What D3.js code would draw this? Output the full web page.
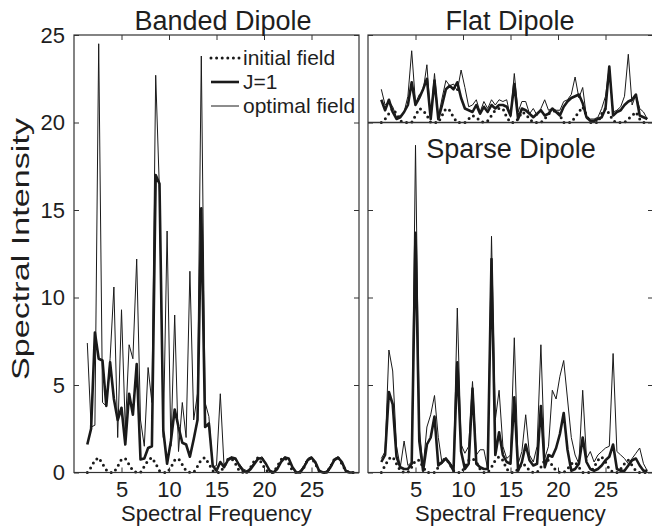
<!DOCTYPE html>
<html>
<head>
<meta charset="utf-8">
<script src="https://cdn.jsdelivr.net/npm/d3@7"></script>
<style>
  body { margin: 0; background: #fff; }
  svg { display: block; }
  text { font-family: "Liberation Sans", Arial, Helvetica, sans-serif; fill: #1e1e1e; }
</style>
</head>
<body>
<svg id="chart" width="652" height="526"></svg>
<script>
// ---------------- DATA ----------------
const freq = [1.4,1.8,2.2,2.6,3.0,3.4,3.8,4.2,4.6,5.0,5.4,5.8,6.2,6.6,7.0,7.4,7.8,8.2,8.6,9.0,
  9.4,9.8,10.2,10.6,11.0,11.4,11.8,12.2,12.6,13.0,13.4,13.8,14.2,14.6,15.0,15.4,15.8,16.2,16.6,17.0,
  17.4,17.8,18.2,18.6,19.0,19.4,19.8,20.2,20.6,21.0,21.4,21.8,22.2,22.6,23.0,23.4,23.8,24.2,24.6,25.0,
  25.4,25.8,26.2,26.6,27.0,27.4,27.8,28.2,28.6,29.0,29.4];

const bandedInitial = [0,0.3,0.7,0.85,0.5,0.15,0, 0,0.35,0.75,0.8,0.45,0.1,0, 0,0.35,0.7,0.85,0.5,0.1,0,
  0,0.3,0.7,0.8,0.45,0.1,0, 0,0.35,0.75,0.85,0.5,0.1,0, 0,0.35,0.75,0.8,0.5,0.1,0,
  0,0.3,0.7,0.85,0.5,0.15,0, 0,0.35,0.75,0.85,0.5,0.1,0, 0,0.3,0.75,0.85,0.5,0.1,0,
  0,0.35,0.75,0.85,0.5,0.1,0, 0];
const bandedJ1 = [1.6,2.5,8.0,6.5,6.4,3.8,6.3,4.2,3.0,3.7,
  1.6,4.5,3.3,6.2,0.75,0.8,1.4,1.5,17.0,16.5,
  2.4,0.5,1.8,3.6,2.6,1.7,1.6,0.9,1.9,3.0,
  15.1,2.6,2.8,0.4,0.1,0.6,0.3,0.7,0.85,0.8,
  0.4,0.1,0.0,0.2,0.5,0.8,0.8,0.5,0.1,0.0,
  0.2,0.6,0.85,0.8,0.3,0.0,0.0,0.3,0.7,0.85,
  0.6,0.1,0.0,0.0,0.3,0.7,0.85,0.6,0.1,0.0, 0.0];
const bandedOptimal = [7.4,2.6,2.7,24.5,4.0,3.8,6.5,10.6,2.0,9.3,
  2.5,7.3,6.5,12.2,3.0,1.5,6.0,4.0,22.7,16.0,
  2.0,13.8,1.5,9.0,1.2,4.0,2.0,11.5,3.0,4.5,
  23.8,4.0,3.2,0.3,0.4,4.5,0.3,0.8,0.9,0.7,
  0.5,0.2,0.1,0.3,0.6,0.8,0.9,0.5,0.1,0.0,
  0.3,0.7,0.9,0.8,0.3,0.0,0.1,0.4,0.8,0.9,
  0.5,0.1,0.0,0.1,0.4,0.8,0.9,0.5,0.1,0.0, 0.0];

// Flat dipole values are measured above its own baseline (drawn at intensity 20)
const flatBaseline = 20;
const flatInitial = [0,0.2,0.5,0.8,0.5,0.1,0,0,0,0.4,
  0.8,0.7,0.4,0,0,0,0.4,0.8,0.7,0.3,
  0,0,0,0.2,0.4,0.3,0.1,0,0.1,0.4,
  0.7,0.8,0.8,0.3,0,0,0.2,0.6,0.5,0.2,
  0,0,0,0.2,0.5,0.6,0.7,0.4,0,0,
  0,0.3,0.6,0.9,0.4,0,0,0,0.5,0.8,
  0.5,0.1,0,0,0,0.2,0.4,0.6,0.2,0, 0];
const flatJ1 = [1.3,0.7,1.3,0.6,0.2,0.3,0.6,1.0,2.3,1.0,
  1.4,1.9,2.5,0.2,2.4,0.2,1.0,1.9,2.1,1.9,
  2.3,1.4,0.8,0.7,0.6,1.0,0.5,0.9,0.6,1.0,
  0.8,1.0,1.0,0.9,0.4,2.2,0.2,0.8,0.7,0.5,
  0.3,0.5,0.7,0.4,0.5,0.8,0.6,0.4,0.9,1.2,
  1.4,1.5,1.6,1.1,0.3,0.1,0.1,0.2,0.3,0.8,
  3.2,0.4,0.6,0.7,1.0,1.2,1.3,1.6,0.4,0.3, 0.2];
const flatOptimal = [1.9,1.0,1.2,0.9,0.3,0.4,0.6,1.5,4.1,1.1,
  1.6,1.8,3.3,0.3,2.8,0.3,1.4,2.4,2.1,2.2,
  1.8,3.0,2.0,0.9,1.0,1.3,0.6,1.2,0.8,1.3,
  1.0,1.3,1.2,1.3,0.3,2.8,0.6,1.2,1.2,0.5,
  0.8,0.4,0.8,1.3,0.7,0.8,0.7,0.7,1.2,1.3,
  1.6,2.6,1.4,2.0,0.3,0.2,0.2,0.3,0.8,1.5,
  3.2,0.6,0.7,0.9,1.5,3.9,1.0,1.6,0.8,0.6, 0.2];

const sparseInitial = [0,0.4,0.8,0.9,0.5,0.1,0,0,0.3,0.7,
  0.7,0.3,0,0,0,0.3,0.7,0.8,0.5,0.1,
  0,0,0.3,0.7,0.8,0.6,0.2,0,0,0.3,
  0.7,0.9,0.7,0.2,0,0,0.2,0.5,0.4,0.1,
  0,0,0.3,0.7,0.7,0.4,0.1,0,0,0.2,
  0.5,0.6,0.3,0,0,0,0.3,0.7,0.9,0.6,
  0.2,0,0,0.2,0.5,0.7,0.4,0.1,0,0, 0];
const sparseJ1 = [0.6,1.0,4.6,3.9,0.9,0.3,0.2,0.2,0.5,13.7,
  1.8,0.1,1.6,2.0,3.2,0.4,0.6,0.8,0.5,0.1,
  6.3,1.2,0.2,0.5,4.8,0.5,0.3,0.2,0.2,12.2,
  1.0,2.3,1.0,0.6,0.5,4.3,0.1,0.6,1.6,0.7,
  0.4,0.5,3.8,0.3,1.0,0.9,1.4,2.2,3.4,1.3,
  0.1,0.2,0.5,2.0,0.6,0.2,0.1,0.2,0.4,0.7,
  0.9,1.6,0.2,0.1,0.1,0.4,0.7,0.8,0.4,0.1, 0.1];
const sparseOptimal = [0.8,1.2,7.0,5.8,1.5,0.3,1.8,0.4,0.6,18.7,
  2.5,0.3,2.6,3.3,4.4,2.0,0.5,0.8,0.6,0.3,
  9.4,1.6,1.1,1.5,5.2,1.0,1.3,1.3,0.2,13.5,
  3.0,4.7,1.5,0.8,1.0,7.7,0.5,1.2,3.3,1.0,
  0.6,1.5,7.3,0.8,1.5,4.7,4.2,5.5,6.4,4.2,
  2.0,1.0,0.5,4.7,0.8,1.2,0.6,1.0,1.2,1.4,
  1.5,6.8,1.2,1.0,0.8,0.5,0.8,1.1,1.4,0.5, 0.1];

const xTicks = [5, 10, 15, 20, 25];
const yTicks = [0, 5, 10, 15, 20, 25];
const legendLabels = ["initial field", "J=1", "optimal field"];
const titles = ["Banded Dipole", "Flat Dipole", "Sparse Dipole"];
const xLabel = "Spectral Frequency";
const yLabel = "Spectral Intensity";

// ---------------- LAYOUT ----------------
const svg = d3.select("#chart");
const INK = "#1a1a1a", AX = "#333";
const y = d3.scaleLinear().domain([0, 25]).range([472.5, 35]);
const xL = d3.scaleLinear().domain([0, 30]).range([74, 359]);
const xR = d3.scaleLinear().domain([0, 30]).range([368, 653]);

const styles = {
  initial: { w: 3, dash: "0,5.6", cap: "round" },
  j1: { w: 2.6, dash: null, cap: "butt" },
  optimal: { w: 1, dash: null, cap: "butt" }
};

function drawSeries(g, xs, vals, offset, st) {
  const line = d3.line().x((d, i) => xs(freq[i])).y(d => y(d + offset));
  g.append("path").datum(vals).attr("d", line)
    .attr("fill", "none").attr("stroke", INK)
    .attr("stroke-width", st.w).attr("stroke-linejoin", "round")
    .attr("stroke-linecap", st.cap)
    .attr("stroke-dasharray", st.dash);
}

const gData = svg.append("g");
drawSeries(gData, xL, bandedInitial, 0, styles.initial);
drawSeries(gData, xL, bandedOptimal, 0, styles.optimal);
drawSeries(gData, xL, bandedJ1, 0, styles.j1);
drawSeries(gData, xR, flatInitial, flatBaseline, styles.initial);
drawSeries(gData, xR, flatOptimal, flatBaseline, styles.optimal);
drawSeries(gData, xR, flatJ1, flatBaseline, styles.j1);
drawSeries(gData, xR, sparseInitial, 0, styles.initial);
drawSeries(gData, xR, sparseOptimal, 0, styles.optimal);
drawSeries(gData, xR, sparseJ1, 0, styles.j1);

// ---------------- AXES ----------------
function styleAxis(g) {
  g.select(".domain").remove();
  g.selectAll("line").attr("stroke", AX).attr("stroke-width", 1);
  g.selectAll("text").attr("font-size", 22).attr("fill", "#1e1e1e")
    .attr("font-family", '"Liberation Sans", Arial, sans-serif');
}
function panel(xs, showYLabels) {
  const [x0, x1] = xs.range();
  const [yb, yt] = y.range();
  const tk = 5;
  const bx = svg.append("g").attr("transform", `translate(0,${yb})`)
    .call(d3.axisBottom(xs).tickValues(xTicks).tickSizeInner(-tk).tickSizeOuter(0).tickPadding(9))
    .call(styleAxis);
  bx.selectAll("text").attr("dy", "0.71em");
  svg.append("g").attr("transform", `translate(0,${yt})`)
    .call(d3.axisTop(xs).tickValues(xTicks).tickSizeInner(-tk).tickSizeOuter(0).tickFormat(""))
    .call(styleAxis);
  const la = d3.axisLeft(y).tickValues(yTicks).tickSizeInner(-tk).tickSizeOuter(0).tickPadding(9);
  if (!showYLabels) la.tickFormat("");
  svg.append("g").attr("transform", `translate(${x0},0)`).call(la).call(styleAxis);
  svg.append("g").attr("transform", `translate(${x1},0)`)
    .call(d3.axisRight(y).tickValues(yTicks).tickSizeInner(-tk).tickSizeOuter(0).tickFormat(""))
    .call(styleAxis);
  svg.append("rect").attr("x", x0).attr("y", yt).attr("width", x1 - x0).attr("height", yb - yt)
    .attr("fill", "none").attr("stroke", AX).attr("stroke-width", 1.2);
  svg.append("text").attr("x", (x0 + x1) / 2).attr("y", 521).attr("text-anchor", "middle")
    .attr("font-size", 22).text(xLabel);
}
panel(xL, true);
panel(xR, false);

// flat dipole baseline inside the right panel
svg.append("line").attr("x1", xR.range()[0]).attr("x2", xR.range()[1])
  .attr("y1", y(flatBaseline)).attr("y2", y(flatBaseline))
  .attr("stroke", AX).attr("stroke-width", 1.4);

// titles
svg.append("text").attr("x", 223).attr("y", 30).attr("text-anchor", "middle")
  .attr("font-size", 27).text(titles[0]);
svg.append("text").attr("x", 510).attr("y", 30).attr("text-anchor", "middle")
  .attr("font-size", 27).text(titles[1]);
svg.append("text").attr("x", 511).attr("y", 158).attr("text-anchor", "middle")
  .attr("font-size", 27).text(titles[2]);

// y label
svg.append("text").attr("transform", "translate(29,249) rotate(-90)")
  .attr("text-anchor", "middle").attr("font-size", 23)
  .attr("textLength", 262).attr("lengthAdjust", "spacingAndGlyphs")
  .text(yLabel);

// legend
const legendKeys = ["initial", "j1", "optimal"];
const lg = svg.append("g");
legendKeys.forEach((k, i) => {
  const yy = 58 + i * 24;
  const st = styles[k];
  lg.append("line").attr("x1", 211).attr("x2", 239).attr("y1", yy).attr("y2", yy)
    .attr("stroke", INK).attr("stroke-width", st.w)
    .attr("stroke-dasharray", st.dash).attr("stroke-linecap", st.cap);
  lg.append("text").attr("x", 243).attr("y", yy).attr("dy", "0.35em")
    .attr("font-size", 21).text(legendLabels[i]);
});
</script>
</body>
</html>
